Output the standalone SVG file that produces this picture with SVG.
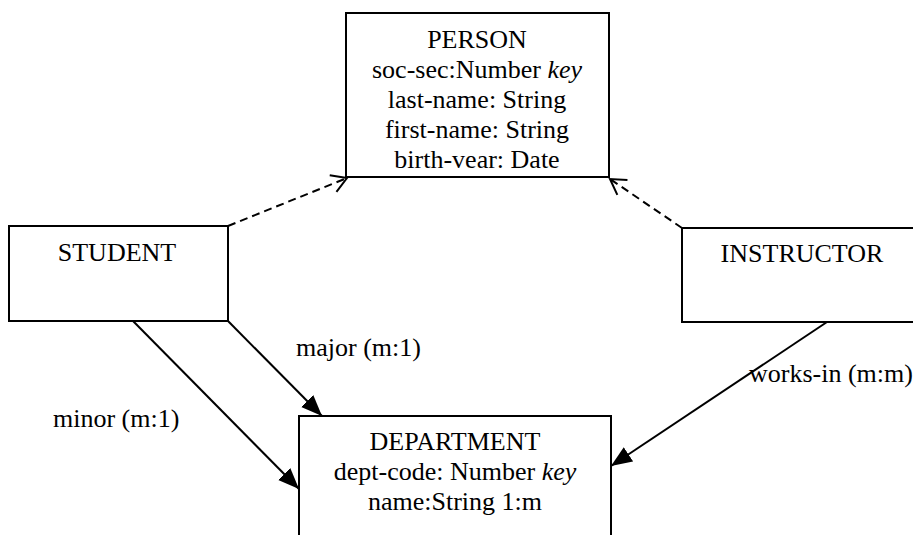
<svg xmlns="http://www.w3.org/2000/svg" width="913" height="535" viewBox="0 0 913 535">
<defs>
<style>
.box{fill:#fff;stroke:#000;stroke-width:2}
.t{font-family:"Liberation Serif","Times New Roman",serif;font-size:26px;fill:#000;text-anchor:middle}
.l{font-family:"Liberation Serif","Times New Roman",serif;font-size:26px;fill:#000}
.solid{fill:none;stroke:#000;stroke-width:2}
.dash{fill:none;stroke:#000;stroke-width:2;stroke-dasharray:8 5}
</style>
<marker id="filled" markerUnits="userSpaceOnUse" markerWidth="24" markerHeight="18" refX="21" refY="8.5" orient="auto">
<path d="M0,0 L21,8.5 L0,17 z" fill="#000"/>
</marker>
<marker id="open" markerUnits="userSpaceOnUse" markerWidth="20" markerHeight="22" refX="16" refY="10" orient="auto">
<path d="M1,1 L16,10 L1,19" fill="none" stroke="#000" stroke-width="2"/>
</marker>
</defs>
<rect width="913" height="535" fill="#fff"/>
<g id="connectors">
<line class="dash" x1="228" y1="226" x2="347" y2="178" marker-end="url(#open)"/>
<line class="dash" x1="682" y1="228" x2="610" y2="179" marker-end="url(#open)"/>
<line class="solid" x1="228" y1="321" x2="322" y2="416" marker-end="url(#filled)"/>
<line class="solid" x1="133" y1="321" x2="299" y2="489" marker-end="url(#filled)"/>
<line class="solid" x1="827" y1="322" x2="611" y2="466" marker-end="url(#filled)"/>
<text class="l" x="296" y="356">major (m:1)</text>
<text class="l" x="53" y="427">minor (m:1)</text>
<text class="l" x="749" y="382">works-in (m:m)</text>
</g>
<g id="person">
<rect class="box" x="346" y="13" width="263" height="164"/>
<text class="t" x="477" y="48">PERSON</text>
<text class="t" x="477" y="78">soc-sec:Number <tspan font-style="italic">key</tspan></text>
<text class="t" x="477" y="108">last-name: String</text>
<text class="t" x="477" y="138">first-name: String</text>
<text class="t" x="477" y="168">birth-vear: Date</text>
</g>
<g id="student">
<rect class="box" x="9" y="226" width="219" height="95"/>
<text class="t" x="117" y="261">STUDENT</text>
</g>
<g id="instructor">
<rect class="box" x="682" y="228" width="240" height="94"/>
<text class="t" x="802" y="262">INSTRUCTOR</text>
</g>
<g id="department">
<rect class="box" x="299" y="416" width="312" height="130"/>
<text class="t" x="455" y="450">DEPARTMENT</text>
<text class="t" x="455" y="480">dept-code: Number <tspan font-style="italic">key</tspan></text>
<text class="t" x="455" y="510">name:String 1:m</text>
</g>
</svg>
